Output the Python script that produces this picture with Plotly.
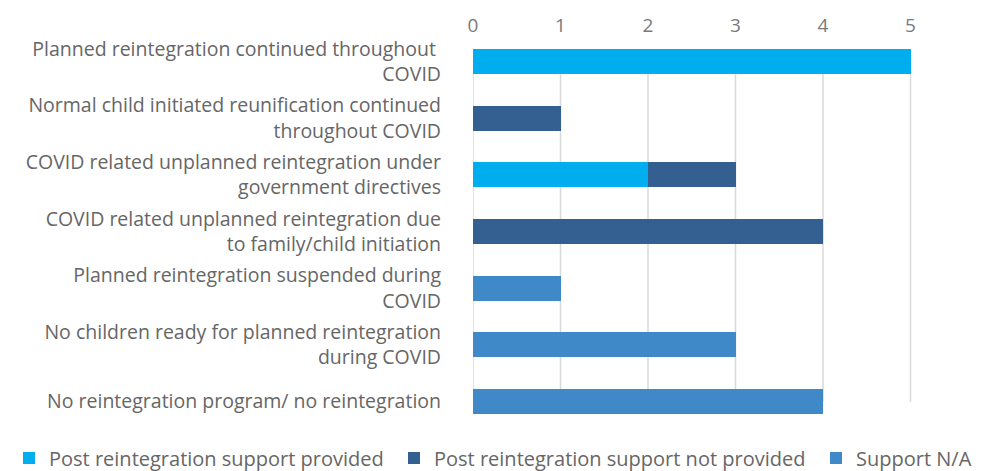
import plotly.graph_objects as go

categories = [
    "Planned reintegration continued throughout <br>COVID",
    "Normal child initiated reunification continued<br>throughout COVID",
    "COVID related unplanned reintegration under<br>government directives",
    "COVID related unplanned reintegration due<br>to family/child initiation",
    "Planned reintegration suspended during<br>COVID",
    "No children ready for planned reintegration<br>during COVID",
    "No reintegration program/ no reintegration",
]
support_provided = [5, 0, 2, 0, 0, 0, 0]
support_not_provided = [0, 1, 1, 4, 0, 0, 0]
support_na = [0, 0, 0, 0, 1, 3, 4]
x_ticks = [0, 1, 2, 3, 4, 5, 6]

series = [
    ("Post reintegration support provided", support_provided, "#00AEEF", 340),
    ("Post reintegration support not provided", support_not_provided, "#345F91", 377),
    ("Support N/A", support_na, "#3F89C8", 125),
]

FONT = "Open Sans, Liberation Sans, Arial, sans-serif"

ML, MR, MT, MB = 465, 1, 25, 48.5
W, H = 991, 471
plot_w = W - ML - MR
plot_h = H - MT - MB

fig = go.Figure()
for name, vals, color, lw in series:
    fig.add_trace(go.Bar(
        y=categories, x=vals, name=name, orientation="h",
        marker=dict(color=color, line=dict(width=0)),
        legendwidth=lw,
    ))

shapes = []
for t in x_ticks:
    shapes.append(dict(
        type="line", xref="x", yref="y", x0=t, x1=t,
        y0=0, y1=len(categories) - 1,
        line=dict(color="#D9D9D9", width=1.5), layer="below",
    ))

fig.update_layout(
    width=W, height=H,
    margin=dict(l=ML, r=MR, t=MT, b=MB, pad=0),
    barmode="stack",
    bargap=0.56,
    plot_bgcolor="white", paper_bgcolor="white",
    shapes=shapes,
    font=dict(family=FONT, color="#666666"),
    xaxis=dict(
        side="top", range=[0, 6], tickvals=x_ticks, showgrid=False,
        zeroline=False, showline=False, automargin=False,
        tickfont=dict(size=19, color="#7A7A7A"),
        ticklabelstandoff=-4, ticklabeloverflow="allow",
    ),
    yaxis=dict(
        autorange="reversed", showgrid=False, zeroline=False, showline=False,
        automargin=False,
        tickfont=dict(size=19.5, color="#666666"),
        ticklabelstandoff=31,
    ),
    legend=dict(
        orientation="h", xref="paper", x=(1 - ML) / plot_w, xanchor="left",
        yref="paper", y=-(470 - (H - MB)) / plot_h, yanchor="bottom",
        font=dict(family=FONT, size=20, color="#666666"),
        traceorder="normal", itemwidth=30,
        bgcolor="rgba(0,0,0,0)",
    ),
)

fig.write_html("out.html")
